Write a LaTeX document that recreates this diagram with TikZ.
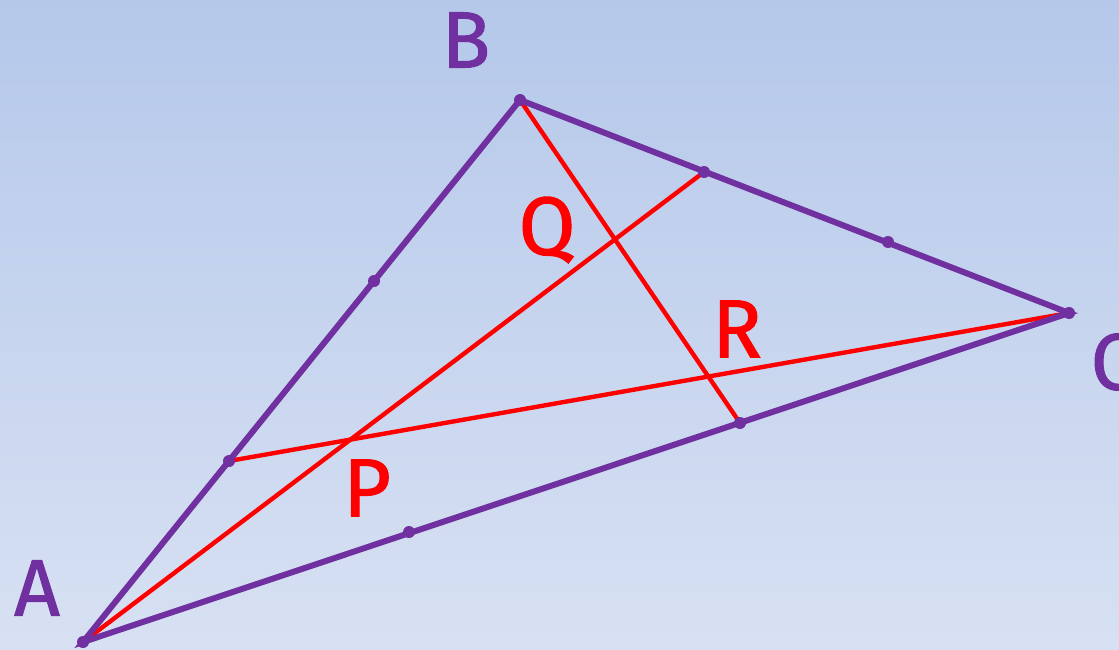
\documentclass[tikz,border=0pt]{standalone}
\usepackage{fontspec}
\setmainfont{Fira Sans}
\newfontfamily\labfont[FakeBold=1.2]{Fira Sans}
\definecolor{bgtop}{RGB}{181,200,234}
\definecolor{bgbot}{RGB}{216,225,243}
\definecolor{vio}{RGB}{112,48,160}
\begin{document}
\begin{tikzpicture}[x=0.75pt,y=-0.75pt,
  side/.style={draw=vio,line width=4.5pt,line cap=round},
  ceva/.style={draw=red,line width=3.3pt},
  dot/.style={circle,fill=vio,inner sep=0pt,minimum size=9pt},
  vlab/.style={text=vio,font=\labfont\fontsize{60}{60}\selectfont},
  rlab/.style={text=red,font=\labfont\fontsize{62}{62}\selectfont}]
\fill[top color=bgtop,bottom color=bgbot] (0,0) rectangle (1119,649);
\useasboundingbox (0,0) rectangle (1119,649);
\coordinate (A) at (83,642);
\coordinate (B) at (520,100);
\coordinate (C) at (1069,313);
\coordinate (AB1) at (229,461);
\coordinate (AB2) at (374,281);
\coordinate (BC1) at (704,172);
\coordinate (BC2) at (888,242);
\coordinate (CA1) at (740,423);
\coordinate (CA2) at (409,532);
\draw[ceva] (A) -- (BC1);
\draw[ceva] (B) -- (CA1);
\draw[ceva] (C) -- (AB1);
\draw[side] (A) -- (B) -- (C) -- cycle;
\foreach \p in {A,B,C,AB1,AB2,BC1,BC2,CA1,CA2} \node[dot] (d\p) at (\p) {};
\node[vlab] (lB) at (466,40) {B};
\node[vlab] (lA) at (37,588) {A};
\node[vlab] (lC) at (1113,362) {C};
\node[rlab] (lQ) at (547,230) {Q};
\node[rlab] (lR) at (737,329) {R};
\node[rlab] (lP) at (367,488) {P};
\end{tikzpicture}
\end{document}
